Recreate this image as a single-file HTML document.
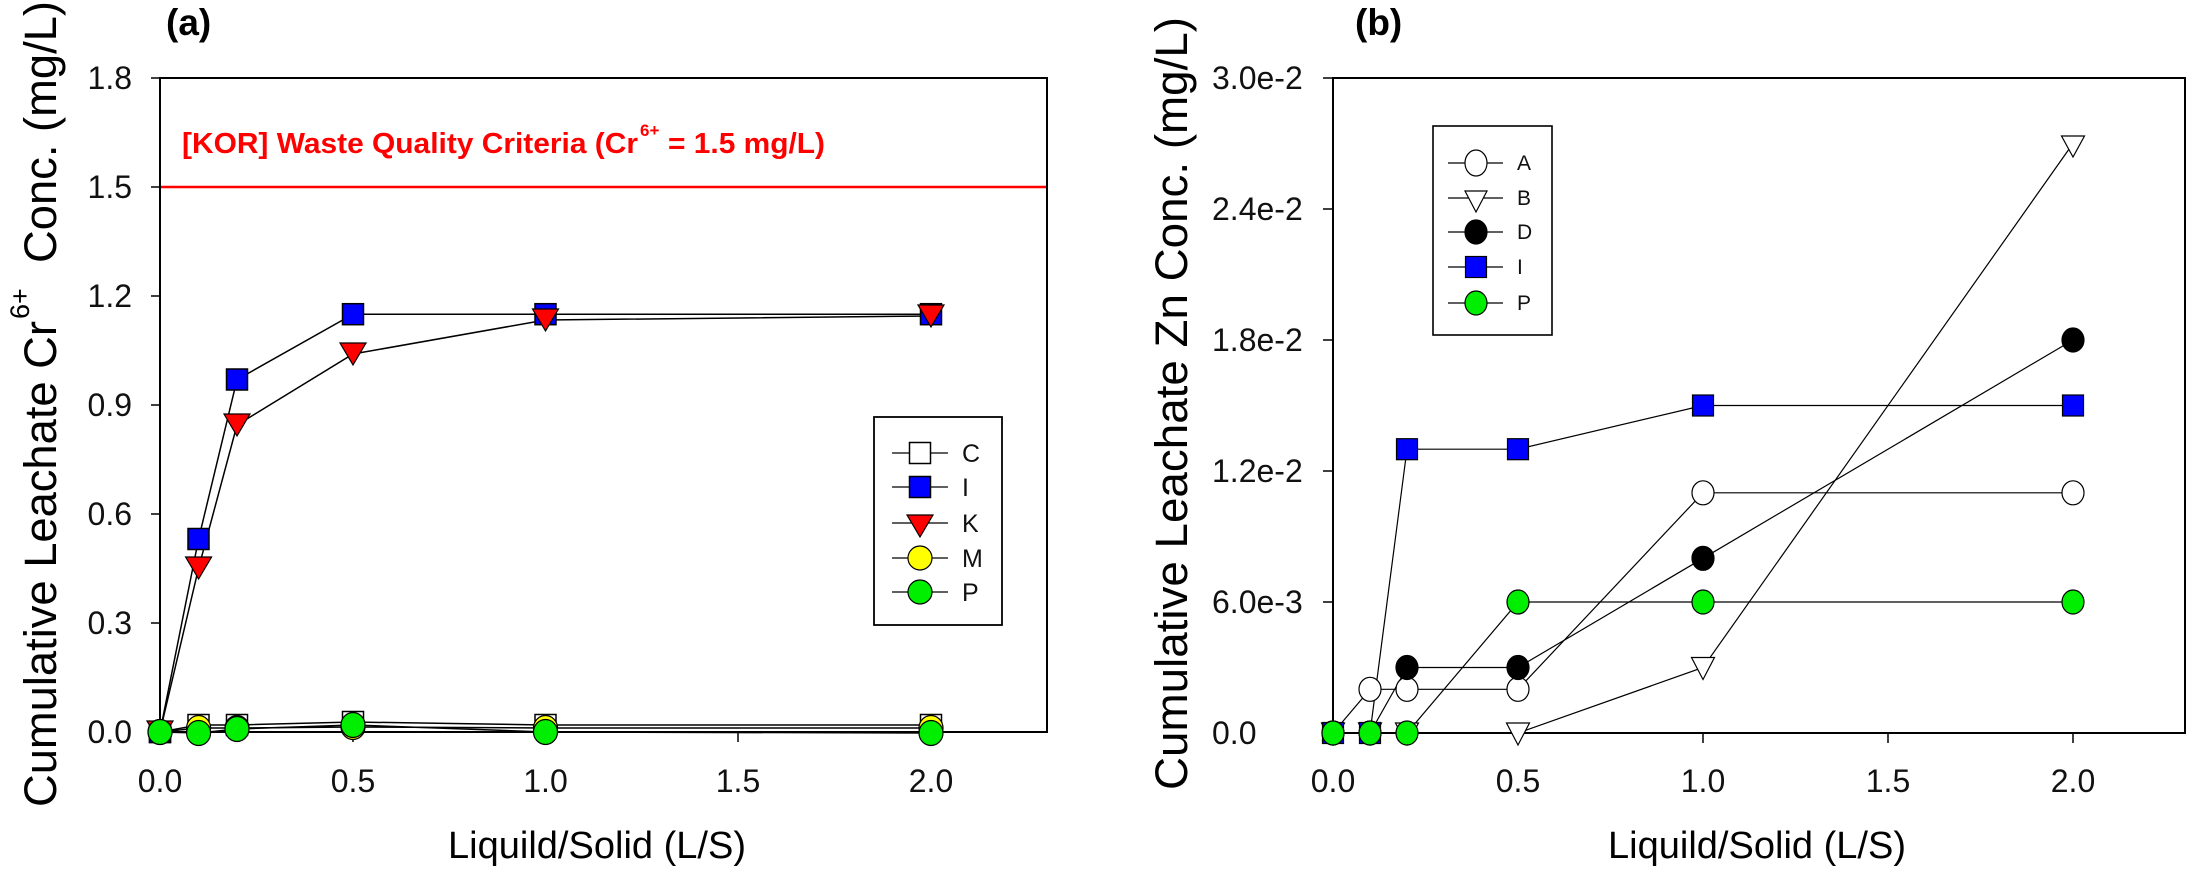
<!DOCTYPE html>
<html>
<head>
<meta charset="utf-8">
<style>
html,body{margin:0;padding:0;background:#fff;}
svg{display:block;}
text{font-family:"Liberation Sans",Arial,sans-serif;}
</style>
</head>
<body>
<svg width="2187" height="875" viewBox="0 0 2187 875" xmlns="http://www.w3.org/2000/svg">
<rect width="2187" height="875" fill="#fff"/>

<!-- ================= PANEL (a) ================= -->
<text x="166" y="35" font-size="37" font-weight="bold">(a)</text>

<!-- frame -->
<rect x="160" y="78" width="887" height="654" fill="none" stroke="#000" stroke-width="2"/>

<!-- y ticks -->
<g stroke="#000" stroke-width="1.5">
<line x1="151" y1="732" x2="160" y2="732"/>
<line x1="151" y1="623" x2="160" y2="623"/>
<line x1="151" y1="514" x2="160" y2="514"/>
<line x1="151" y1="405" x2="160" y2="405"/>
<line x1="151" y1="296" x2="160" y2="296"/>
<line x1="151" y1="187" x2="160" y2="187"/>
<line x1="151" y1="78" x2="160" y2="78"/>
<line x1="160" y1="732" x2="160" y2="742"/>
<line x1="353" y1="732" x2="353" y2="742"/>
<line x1="545.5" y1="732" x2="545.5" y2="742"/>
<line x1="738" y1="732" x2="738" y2="742"/>
<line x1="931" y1="732" x2="931" y2="742"/>
</g>
<g font-size="32" text-anchor="end" fill="#111">
<text x="132" y="743">0.0</text>
<text x="132" y="634">0.3</text>
<text x="132" y="525">0.6</text>
<text x="132" y="416">0.9</text>
<text x="132" y="307">1.2</text>
<text x="132" y="198">1.5</text>
<text x="132" y="89">1.8</text>
</g>
<g font-size="32" text-anchor="middle" fill="#111">
<text x="160" y="792">0.0</text>
<text x="353" y="792">0.5</text>
<text x="545.5" y="792">1.0</text>
<text x="738" y="792">1.5</text>
<text x="931" y="792">2.0</text>
</g>

<!-- axis titles -->
<text x="448" y="858" font-size="38" textLength="298" lengthAdjust="spacingAndGlyphs">Liquild/Solid (L/S)</text>
<g transform="translate(56,807) rotate(-90)">
<text x="0" y="0" font-size="45" textLength="486" lengthAdjust="spacingAndGlyphs">Cumulative Leachate Cr</text>
<text x="488" y="-27" font-size="27">6+</text>
<text x="544" y="0" font-size="45" textLength="262" lengthAdjust="spacingAndGlyphs">Conc. (mg/L)</text>
</g>

<!-- criteria line -->
<line x1="161" y1="187" x2="1046" y2="187" stroke="#ff0000" stroke-width="2.5"/>
<g fill="#ff0000" font-weight="bold">
<text x="182" y="153" font-size="29" textLength="456" lengthAdjust="spacingAndGlyphs">[KOR] Waste Quality Criteria (Cr</text>
<text x="640" y="136" font-size="17">6+</text>
<text x="668" y="153" font-size="29" textLength="157" lengthAdjust="spacingAndGlyphs">= 1.5 mg/L)</text>
</g>

<!-- series lines (a) -->
<g fill="none" stroke="#000" stroke-width="1.5">
<polyline points="160,732 198.6,725 237,725 353,722 545.5,725 931,725"/>
<polyline points="160,732 198.6,539 237,379.6 353,314.2 545.5,314.2 931,314.2"/>
<polyline points="160,732 198.6,568 237,425 353,354 545.5,320 931,316"/>
<polyline points="160,732 198.6,728 237,728 353,727 545.5,728 931,728"/>
<polyline points="160,732 198.6,733 237,729 353,725 545.5,732 931,733"/>
</g>
<!-- C open squares -->
<g fill="#fff" stroke="#000" stroke-width="1.5">
<rect x="149.5" y="721.5" width="21" height="21"/>
<rect x="188" y="714.5" width="21" height="21"/>
<rect x="226.5" y="714.5" width="21" height="21"/>
<rect x="342.5" y="711.5" width="21" height="21"/>
<rect x="535" y="714.5" width="21" height="21"/>
<rect x="920.5" y="714.5" width="21" height="21"/>
</g>
<!-- I blue squares -->
<g fill="#0000ff" stroke="#000" stroke-width="1.5">
<rect x="149.5" y="721.5" width="21" height="21"/>
<rect x="188" y="528.5" width="21" height="21"/>
<rect x="226.5" y="369" width="21" height="21"/>
<rect x="342.5" y="303.7" width="21" height="21"/>
<rect x="535" y="303.7" width="21" height="21"/>
<rect x="920.5" y="303.7" width="21" height="21"/>
</g>
<!-- K red triangles -->
<g fill="#ff0000" stroke="#000" stroke-width="1.2">
<polygon points="147,721 173,721 160,743"/>
<polygon points="185.6,557 211.6,557 198.6,579"/>
<polygon points="224,414 250,414 237,436"/>
<polygon points="340,343 366,343 353,365"/>
<polygon points="532.5,309 558.5,309 545.5,331"/>
<polygon points="918,305 944,305 931,327"/>
</g>
<!-- M yellow circles -->
<g fill="#ffff00" stroke="#000" stroke-width="1.2">
<ellipse cx="160" cy="732" rx="12" ry="12.5"/>
<ellipse cx="198.6" cy="728" rx="12" ry="12.5"/>
<ellipse cx="237" cy="728" rx="12" ry="12.5"/>
<ellipse cx="353" cy="727" rx="12" ry="12.5"/>
<ellipse cx="545.5" cy="728" rx="12" ry="12.5"/>
<ellipse cx="931" cy="728" rx="12" ry="12.5"/>
</g>
<!-- P green circles -->
<g fill="#00ee00" stroke="#000" stroke-width="1.2">
<ellipse cx="160" cy="732" rx="12" ry="12.5"/>
<ellipse cx="198.6" cy="733" rx="12" ry="12.5"/>
<ellipse cx="237" cy="729" rx="12" ry="12.5"/>
<ellipse cx="353" cy="725" rx="12" ry="12.5"/>
<ellipse cx="545.5" cy="732" rx="12" ry="12.5"/>
<ellipse cx="931" cy="733" rx="12" ry="12.5"/>
</g>

<!-- legend (a) -->
<rect x="874" y="417" width="128" height="208" fill="#fff" stroke="#000" stroke-width="1.8"/>
<g stroke="#000" stroke-width="1.3">
<line x1="892" y1="453" x2="948" y2="453"/>
<line x1="892" y1="487" x2="948" y2="487"/>
<line x1="892" y1="523" x2="948" y2="523"/>
<line x1="892" y1="558" x2="948" y2="558"/>
<line x1="892" y1="592" x2="948" y2="592"/>
</g>
<rect x="909.5" y="442.5" width="21" height="21" fill="#fff" stroke="#000" stroke-width="1.5"/>
<rect x="909.5" y="476.5" width="21" height="21" fill="#0000ff" stroke="#000" stroke-width="1.5"/>
<polygon points="907,515 933,515 920,537" fill="#ff0000" stroke="#000" stroke-width="1.2"/>
<ellipse cx="920" cy="558" rx="12" ry="12" fill="#ffff00" stroke="#000" stroke-width="1.2"/>
<ellipse cx="920" cy="592" rx="12" ry="12" fill="#00ee00" stroke="#000" stroke-width="1.2"/>
<g font-size="25" fill="#111">
<text x="962" y="462">C</text>
<text x="962" y="496">I</text>
<text x="962" y="532">K</text>
<text x="962" y="567">M</text>
<text x="962" y="601">P</text>
</g>

<!-- ================= PANEL (b) ================= -->
<text x="1355" y="35" font-size="37" font-weight="bold">(b)</text>

<rect x="1333" y="78" width="852" height="655" fill="none" stroke="#000" stroke-width="2"/>

<g stroke="#000" stroke-width="1.5">
<line x1="1323" y1="733" x2="1333" y2="733"/>
<line x1="1323" y1="602" x2="1333" y2="602"/>
<line x1="1323" y1="471" x2="1333" y2="471"/>
<line x1="1323" y1="340" x2="1333" y2="340"/>
<line x1="1323" y1="209" x2="1333" y2="209"/>
<line x1="1323" y1="78" x2="1333" y2="78"/>
<line x1="1333" y1="733" x2="1333" y2="743"/>
<line x1="1518" y1="733" x2="1518" y2="743"/>
<line x1="1703" y1="733" x2="1703" y2="743"/>
<line x1="1888" y1="733" x2="1888" y2="743"/>
<line x1="2073" y1="733" x2="2073" y2="743"/>
</g>
<g font-size="32" fill="#111">
<text x="1212" y="744">0.0</text>
<text x="1212" y="613">6.0e-3</text>
<text x="1212" y="482">1.2e-2</text>
<text x="1212" y="351">1.8e-2</text>
<text x="1212" y="220">2.4e-2</text>
<text x="1212" y="89">3.0e-2</text>
</g>
<g font-size="32" text-anchor="middle" fill="#111">
<text x="1333" y="792">0.0</text>
<text x="1518" y="792">0.5</text>
<text x="1703" y="792">1.0</text>
<text x="1888" y="792">1.5</text>
<text x="2073" y="792">2.0</text>
</g>

<text x="1608" y="858" font-size="38" textLength="298" lengthAdjust="spacingAndGlyphs">Liquild/Solid (L/S)</text>
<text transform="translate(1187,790) rotate(-90)" font-size="45" textLength="773" lengthAdjust="spacingAndGlyphs">Cumulative Leachate Zn Conc. (mg/L)</text>

<!-- series lines (b) -->
<g fill="none" stroke="#000" stroke-width="1.2">
<polyline points="1333,733 1370,689.3 1407,689.3 1518,689.3 1703,492.8 2073,492.8"/>
<polyline points="1333,733 1370,733 1407,733 1518,733 1703,667.5 2073,143.5"/>
<polyline points="1333,733 1370,733 1407,667.5 1518,667.5 1703,558.3 2073,340"/>
<polyline points="1333,733 1370,733 1407,449.2 1518,449.2 1703,405.5 2073,405.5"/>
<polyline points="1333,733 1370,733 1407,733 1518,602 1703,602 2073,602"/>
</g>
<!-- A open circles -->
<g fill="#fff" stroke="#000" stroke-width="1.2">
<ellipse cx="1333" cy="733" rx="11" ry="12"/>
<ellipse cx="1370" cy="689.3" rx="11" ry="12"/>
<ellipse cx="1407" cy="689.3" rx="11" ry="12"/>
<ellipse cx="1518" cy="689.3" rx="11" ry="12"/>
<ellipse cx="1703" cy="492.8" rx="11" ry="12"/>
<ellipse cx="2073" cy="492.8" rx="11" ry="12"/>
</g>
<!-- B open triangles -->
<g fill="#fff" stroke="#000" stroke-width="1.2">
<polygon points="1321.5,723 1344.5,723 1333,745"/>
<polygon points="1358.5,723 1381.5,723 1370,745"/>
<polygon points="1395.5,723 1418.5,723 1407,745"/>
<polygon points="1506.5,723 1529.5,723 1518,745"/>
<polygon points="1691.5,657.5 1714.5,657.5 1703,679.5"/>
<polygon points="2061.5,136 2084.5,136 2073,157"/>
</g>
<!-- D black circles -->
<g fill="#000" stroke="#000" stroke-width="1.2">
<ellipse cx="1333" cy="733" rx="11" ry="12"/>
<ellipse cx="1370" cy="733" rx="11" ry="12"/>
<ellipse cx="1407" cy="667.5" rx="11" ry="12"/>
<ellipse cx="1518" cy="667.5" rx="11" ry="12"/>
<ellipse cx="1703" cy="558.3" rx="11" ry="12"/>
<ellipse cx="2073" cy="340" rx="11" ry="12"/>
</g>
<!-- I blue squares -->
<g fill="#0000ff" stroke="#000" stroke-width="1.2">
<rect x="1322.5" y="722.5" width="21" height="21"/>
<rect x="1359.5" y="722.5" width="21" height="21"/>
<rect x="1396.5" y="438.7" width="21" height="21"/>
<rect x="1507.5" y="438.7" width="21" height="21"/>
<rect x="1692.5" y="395" width="21" height="21"/>
<rect x="2062.5" y="395" width="21" height="21"/>
</g>
<!-- P green circles -->
<g fill="#00ee00" stroke="#000" stroke-width="1.2">
<ellipse cx="1333" cy="733" rx="11" ry="12"/>
<ellipse cx="1370" cy="733" rx="11" ry="12"/>
<ellipse cx="1407" cy="733" rx="11" ry="12"/>
<ellipse cx="1518" cy="602" rx="11" ry="12"/>
<ellipse cx="1703" cy="602" rx="11" ry="12"/>
<ellipse cx="2073" cy="602" rx="11" ry="12"/>
</g>

<!-- legend (b) -->
<rect x="1433" y="126" width="119" height="209" fill="#fff" stroke="#000" stroke-width="1.6"/>
<g stroke="#000" stroke-width="1.3">
<line x1="1448" y1="163" x2="1503" y2="163"/>
<line x1="1448" y1="198" x2="1503" y2="198"/>
<line x1="1448" y1="232" x2="1503" y2="232"/>
<line x1="1448" y1="267" x2="1503" y2="267"/>
<line x1="1448" y1="303" x2="1503" y2="303"/>
</g>
<ellipse cx="1476" cy="163" rx="11" ry="13" fill="#fff" stroke="#000" stroke-width="1.2"/>
<polygon points="1465,191 1487,191 1476,212" fill="#fff" stroke="#000" stroke-width="1.2"/>
<ellipse cx="1476" cy="232" rx="11" ry="12" fill="#000" stroke="#000" stroke-width="1.2"/>
<rect x="1465.5" y="256.5" width="21" height="21" fill="#0000ff" stroke="#000" stroke-width="1.2"/>
<ellipse cx="1476" cy="303" rx="11" ry="12" fill="#00ee00" stroke="#000" stroke-width="1.2"/>
<g font-size="21" fill="#111">
<text x="1517" y="170">A</text>
<text x="1517" y="205">B</text>
<text x="1517" y="239">D</text>
<text x="1517" y="274">I</text>
<text x="1517" y="310">P</text>
</g>
</svg>
</body>
</html>
